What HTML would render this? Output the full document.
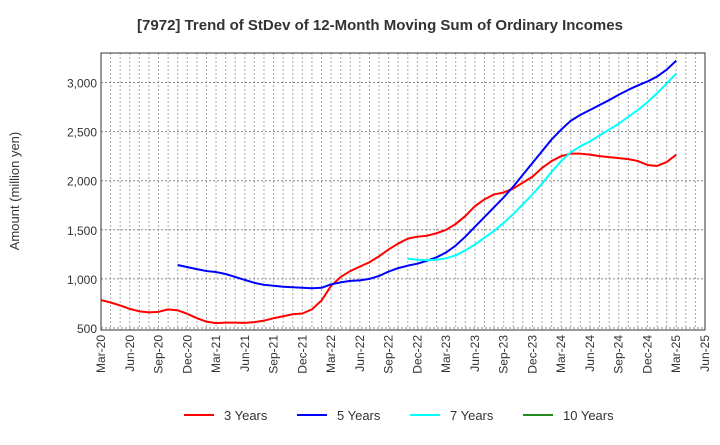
<!DOCTYPE html>
<html><head><meta charset="utf-8"><style>
body{margin:0;background:#fff;font-family:"Liberation Sans",Arial,sans-serif}
</style></head><body>
<svg id="chart" width="720" height="440" xmlns="http://www.w3.org/2000/svg">
<text x="380" y="30" text-anchor="middle" font-size="15" font-weight="bold" fill="#333">[7972]  Trend of StDev of 12-Month Moving Sum of Ordinary Incomes</text>
<text transform="translate(19,191) rotate(-90)" text-anchor="middle" font-size="13" fill="#333">Amount (million yen)</text>
<g id="grid"></g><g id="series"></g><g id="axes"></g>
<g>
<g><line x1="184" y1="415" x2="214" y2="415" stroke="#ff0000" stroke-width="2"/><text x="224" y="420" font-size="13" fill="#333">3 Years</text></g>
<g><line x1="297" y1="415" x2="327" y2="415" stroke="#0000ff" stroke-width="2"/><text x="337" y="420" font-size="13" fill="#333">5 Years</text></g>
<g><line x1="410" y1="415" x2="440" y2="415" stroke="#00ffff" stroke-width="2"/><text x="450" y="420" font-size="13" fill="#333">7 Years</text></g>
<g><line x1="523" y1="415" x2="553" y2="415" stroke="#228b22" stroke-width="2"/><text x="563" y="420" font-size="13" fill="#333">10 Years</text></g>
</g>
</svg>
<script>
const tickLabels=["Mar-20","Jun-20","Sep-20","Dec-20","Mar-21","Jun-21","Sep-21","Dec-21","Mar-22","Jun-22","Sep-22","Dec-22","Mar-23","Jun-23","Sep-23","Dec-23","Mar-24","Jun-24","Sep-24","Dec-24","Mar-25","Jun-25"];
const yTicks=[500,1000,1500,2000,2500,3000];
// monthly values; start month index from Mar-20 = 0
const s3Start=0;
const s3=[785,760,730,695,670,660,665,690,680,645,600,565,550,555,555,553,560,575,600,620,640,648,690,780,930,1020,1080,1125,1170,1230,1300,1360,1410,1430,1440,1465,1500,1560,1640,1740,1810,1860,1880,1920,1980,2040,2130,2200,2250,2275,2275,2265,2250,2240,2230,2220,2200,2160,2150,2190,2265];
const s5Start=8;
const s5=[1142,1120,1100,1080,1070,1050,1020,990,960,940,930,920,915,910,905,910,945,965,980,985,1000,1030,1075,1110,1135,1155,1185,1220,1270,1340,1430,1530,1630,1730,1830,1940,2060,2180,2300,2420,2520,2610,2670,2720,2770,2820,2875,2925,2970,3010,3060,3130,3222];
const s7Start=32;
const s7=[1205,1195,1190,1195,1210,1240,1290,1350,1420,1490,1570,1660,1760,1860,1970,2090,2200,2290,2350,2400,2460,2520,2580,2650,2720,2800,2890,2990,3090];
const NS="http://www.w3.org/2000/svg";
const L=101,R=705,T=53,B=330,yMin=480,yMax=3300,months=63;
const x=m=>L+(R-L)*m/months;
const y=v=>B-(v-yMin)/(yMax-yMin)*(B-T);
function mk(tag,attrs,parent){const e=document.createElementNS(NS,tag);for(const k in attrs)e.setAttribute(k,attrs[k]);parent.appendChild(e);return e;}
const grid=document.getElementById('grid'),axes=document.getElementById('axes'),ser=document.getElementById('series');
mk('rect',{x:L,y:T,width:R-L,height:B-T,fill:'#fff'},grid);
for(let m=1;m<months;m++){const l=mk('line',{x1:x(m),x2:x(m),y1:T,y2:B,stroke:'#aaa','stroke-width':1,'stroke-dasharray':'2,2'},grid);

}
yTicks.forEach(v=>{const l=mk('line',{x1:L,x2:R,y1:y(v),y2:y(v),stroke:'#888','stroke-width':1,'stroke-dasharray':'2,2'},grid);


const t=mk('text',{x:L-4,y:y(v)+5,'text-anchor':'end','font-size':12,fill:'#333'},axes);t.textContent=v.toLocaleString('en-US');

});
tickLabels.forEach((s,i)=>{const xx=x(i*3);const t=mk('text',{transform:`translate(${xx+4},${B+5}) rotate(-90)`,'text-anchor':'end','font-size':12,fill:'#333'},axes);t.textContent=s;

});
const fr=mk('rect',{x:L,y:T,width:R-L,height:B-T,fill:'none',stroke:'#333','stroke-width':1},axes);


function line(arr,start,color,name){const p=mk('polyline',{points:arr.map((v,i)=>x(start+i)+','+y(v)).join(' '),fill:'none',stroke:color,'stroke-width':2,'stroke-linejoin':'round'},ser);

}
line(s3,s3Start,'#ff0000','line-3-years');
line(s5,s5Start,'#0000ff','line-5-years');
line(s7,s7Start,'#00ffff','line-7-years');
</script>
</body></html>
